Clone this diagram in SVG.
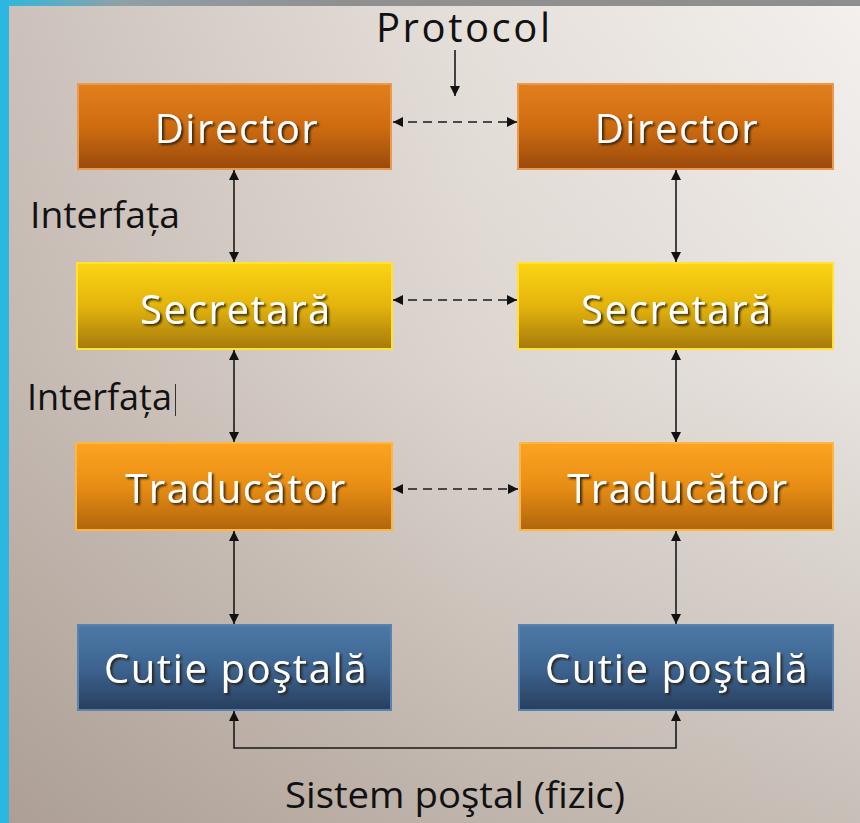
<svg xmlns="http://www.w3.org/2000/svg" width="860" height="823" viewBox="0 0 860 823">
  <defs>
    <linearGradient id="bgH" x1="0" y1="0" x2="1" y2="0">
      <stop offset="0" stop-color="#cbc1ba"/>
      <stop offset="0.55" stop-color="#e6e0db"/>
      <stop offset="1" stop-color="#f3f0ed"/>
    </linearGradient>
    <linearGradient id="bgV" x1="0" y1="0" x2="0" y2="1">
      <stop offset="0" stop-color="#6b5545" stop-opacity="0"/>
      <stop offset="0.45" stop-color="#6b5545" stop-opacity="0.08"/>
      <stop offset="1" stop-color="#6b5545" stop-opacity="0.32"/>
    </linearGradient>
    <linearGradient id="topBar" x1="0" y1="0" x2="1" y2="0">
      <stop offset="0" stop-color="#2bb8e0"/>
      <stop offset="0.14" stop-color="#8fa0a6"/>
      <stop offset="0.4" stop-color="#909090"/>
      <stop offset="1" stop-color="#8e8e8e"/>
    </linearGradient>
    <linearGradient id="gDirector" x1="0" y1="0" x2="0" y2="1">
      <stop offset="0" stop-color="#e27f1c"/>
      <stop offset="0.5" stop-color="#cf6c10"/>
      <stop offset="1" stop-color="#9a4a0c"/>
    </linearGradient>
    <linearGradient id="gSecretara" x1="0" y1="0" x2="0" y2="1">
      <stop offset="0" stop-color="#fbd414"/>
      <stop offset="0.5" stop-color="#e4b40c"/>
      <stop offset="1" stop-color="#a57a0c"/>
    </linearGradient>
    <linearGradient id="gTraducator" x1="0" y1="0" x2="0" y2="1">
      <stop offset="0" stop-color="#fca422"/>
      <stop offset="0.5" stop-color="#e88d14"/>
      <stop offset="1" stop-color="#b0650c"/>
    </linearGradient>
    <linearGradient id="gCutie" x1="0" y1="0" x2="0" y2="1">
      <stop offset="0" stop-color="#4d79a8"/>
      <stop offset="0.5" stop-color="#3d6490"/>
      <stop offset="1" stop-color="#283f5e"/>
    </linearGradient>
    <filter id="shadow" x="-10%" y="-20%" width="130%" height="150%">
      <feDropShadow dx="2" dy="2" stdDeviation="1.2" flood-color="#2a1a08" flood-opacity="0.9"/>
    </filter>
    <marker id="arr" viewBox="0 0 10 10" refX="10" refY="5" markerWidth="10" markerHeight="10" markerUnits="userSpaceOnUse" orient="auto-start-reverse">
      <path d="M0,0 L10,5 L0,10 z" fill="#111"/>
    </marker>
    <style>
      .box { stroke-width: 2; }
      .lbl { font-family: "Open Sans", "DejaVu Sans", sans-serif; font-size: 40px; letter-spacing: 1.6px; fill: #ffffff; text-anchor: middle; filter: url(#shadow); }
      .note { font-family: "Open Sans", "DejaVu Sans", sans-serif; fill: #111111; }
      .link { fill: none; stroke: #1a1a1a; stroke-width: 1.6; }
      .dash { stroke-dasharray: 9 6; }
    </style>
  </defs>

  <!-- background -->
  <rect x="0" y="0" width="860" height="823" fill="url(#bgH)"/>
  <rect x="0" y="0" width="860" height="823" fill="url(#bgV)"/>
  <rect x="0" y="0" width="860" height="6" fill="url(#topBar)"/>
  <rect x="0" y="0" width="9" height="823" fill="#2bb8e0"/>

  <!-- labels outside the boxes -->
  <text class="note" x="376" y="42" font-size="40" textLength="174" lengthAdjust="spacing">Protocol</text>
  <text class="note" x="30" y="228" font-size="37" textLength="150" lengthAdjust="spacingAndGlyphs">Interfața</text>
  <text class="note" x="27" y="410" font-size="37" textLength="145" lengthAdjust="spacingAndGlyphs">Interfața</text>
  <line x1="175.5" y1="384" x2="175.5" y2="416" stroke="#333" stroke-width="1"/>
  <text class="note" x="285" y="808" font-size="36" textLength="340" lengthAdjust="spacingAndGlyphs">Sistem poştal (fizic)</text>

  <!-- connectors -->
  <g id="connectors">
    <line class="link" x1="455" y1="50" x2="455" y2="96" marker-end="url(#arr)"/>
    <line class="link dash" x1="393" y1="122" x2="517" y2="122" marker-start="url(#arr)" marker-end="url(#arr)"/>
    <line class="link dash" x1="393" y1="300" x2="517" y2="300" marker-start="url(#arr)" marker-end="url(#arr)"/>
    <line class="link dash" x1="393" y1="489" x2="518" y2="489" marker-start="url(#arr)" marker-end="url(#arr)"/>

    <line class="link" x1="234" y1="170" x2="234" y2="262" marker-start="url(#arr)" marker-end="url(#arr)"/>
    <line class="link" x1="234" y1="350" x2="234" y2="442" marker-start="url(#arr)" marker-end="url(#arr)"/>
    <line class="link" x1="234" y1="531" x2="234" y2="624" marker-start="url(#arr)" marker-end="url(#arr)"/>
    <line class="link" x1="676" y1="170" x2="676" y2="262" marker-start="url(#arr)" marker-end="url(#arr)"/>
    <line class="link" x1="676" y1="350" x2="676" y2="442" marker-start="url(#arr)" marker-end="url(#arr)"/>
    <line class="link" x1="676" y1="531" x2="676" y2="624" marker-start="url(#arr)" marker-end="url(#arr)"/>

    <path class="link" d="M234,711 L234,748 L676,748 L676,711" marker-start="url(#arr)" marker-end="url(#arr)"/>
  </g>

  <!-- left column -->
  <g id="director-left">
    <rect class="box" x="78" y="84" width="313" height="85" fill="url(#gDirector)" stroke="#ea9a4e"/>
    <text class="lbl" x="237" y="143">Director</text>
  </g>
  <g id="secretara-left">
    <rect class="box" x="77" y="263" width="315" height="86" fill="url(#gSecretara)" stroke="#ffe234"/>
    <text class="lbl" x="236" y="324">Secretară</text>
  </g>
  <g id="traducator-left">
    <rect class="box" x="76" y="443" width="316" height="87" fill="url(#gTraducator)" stroke="#ffb640"/>
    <text class="lbl" x="236" y="503">Traducător</text>
  </g>
  <g id="cutie-left">
    <rect class="box" x="78" y="625" width="313" height="85" fill="url(#gCutie)" stroke="#5a82ae"/>
    <text class="lbl" x="236" y="683">Cutie poştală</text>
  </g>

  <!-- right column -->
  <g id="director-right">
    <rect class="box" x="518" y="84" width="315" height="85" fill="url(#gDirector)" stroke="#ea9a4e"/>
    <text class="lbl" x="677" y="143">Director</text>
  </g>
  <g id="secretara-right">
    <rect class="box" x="518" y="263" width="315" height="86" fill="url(#gSecretara)" stroke="#ffe234"/>
    <text class="lbl" x="677" y="324">Secretară</text>
  </g>
  <g id="traducator-right">
    <rect class="box" x="520" y="443" width="313" height="87" fill="url(#gTraducator)" stroke="#ffb640"/>
    <text class="lbl" x="678" y="503">Traducător</text>
  </g>
  <g id="cutie-right">
    <rect class="box" x="519" y="625" width="314" height="85" fill="url(#gCutie)" stroke="#5a82ae"/>
    <text class="lbl" x="677" y="683">Cutie poştală</text>
  </g>
</svg>
